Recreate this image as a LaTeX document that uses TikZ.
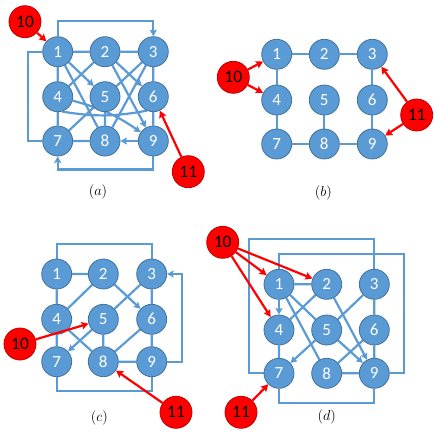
\documentclass[tikz,border=0pt]{standalone}
\usepackage{fontspec}
\setmainfont{Carlito}
\usetikzlibrary{arrows.meta}
\definecolor{nb}{HTML}{5B9BD5}
\definecolor{nbd}{HTML}{41719C}
\definecolor{rd}{HTML}{FF0000}
\definecolor{rdd}{HTML}{C00000}
\pgfdeclarelayer{background}
\pgfsetlayers{background,main}
\begin{document}
\begin{tikzpicture}[x=1pt,y=-1pt,
 bn/.style={circle,fill=nb,draw=nbd,line width=0.8pt,minimum size=30pt,inner sep=0pt,text=white,font=\fontsize{17}{17}\selectfont},
 rn/.style={circle,fill=rd,draw=rdd,line width=0.8pt,minimum size=32pt,inner sep=0pt,text=black,font=\fontsize{17.5}{17.5}\selectfont},
 e/.style={draw=nb,line width=2.2pt},
 ea/.style={e,-{Stealth[length=6.5pt,width=7pt,inset=1pt]}},
 ra/.style={draw=red,line width=2.2pt,-{Stealth[length=7pt,width=7.5pt,inset=1pt]}},
 lab/.style={font=\fontsize{14}{14}\selectfont}]
\useasboundingbox (0,0) rectangle (436,436);

% ---------- panel (a)
\foreach \n/\x/\y in {1/57.7/51.7,2/105/51.7,3/153.3/51.7,4/57.7/96.7,5/105/96.7,6/153.3/96.7,7/57.7/141,8/105/141,9/153.3/141}
  \node[bn] (a\n) at (\x,\y) {\n};
\node[rn] (a10) at (25,21.7) {10};
\node[rn] (a11) at (188.3,171.7) {11};
\node[lab] (la) at (98,192) {$(a)$};

% ---------- panel (b)
\foreach \n/\x/\y in {1/276.7/54.3,2/324.3/54.3,3/372.3/54.3,4/276.7/100,5/324.3/100,6/372.3/100,7/276.7/144,8/324.3/144,9/372.3/144}
  \node[bn] (b\n) at (\x,\y) {\n};
\node[rn] (b10) at (233.3,77.3) {10};
\node[rn] (b11) at (416.7,115) {11};
\node[lab] (lb) at (323.3,193.3) {$(b)$};

% ---------- panel (c)
\foreach \n/\x/\y in {1/56.7/274,2/103.3/274,3/151.7/274,4/56.7/319.3,5/103.3/319.3,6/151.7/319.3,7/56.7/361.7,8/103.3/361.7,9/151.7/361.7}
  \node[bn] (c\n) at (\x,\y) {\n};
\node[rn] (c10) at (20,344) {10};
\node[rn] (c11) at (176,412.3) {11};
\node[lab] (lc) at (99.3,417.7) {$(c)$};

% ---------- panel (d)
\foreach \n/\x/\y in {1/279/284.3,2/326.7/284.3,3/374.3/284.3,4/279/330,5/326.7/330,6/374.3/330,7/279/373.3,8/326.7/373.3,9/374.3/373.3}
  \node[bn] (d\n) at (\x,\y) {\n};
\node[rn] (d10) at (222.7,242.3) {10};
\node[rn] (d11) at (241,412.3) {11};
\node[lab] (ld) at (326.7,416.7) {$(d)$};

\begin{pgfonlayer}{background}
% (a)
\draw[e] (a1)--(a2) (a2)--(a3) (a1)--(a4) (a4)--(a7) (a3)--(a6) (a6)--(a9)
  (a5)--(a8) (a7)--(a8) (a1)--(a8) (a2)--(a4) (a3)--(a7) (a3)--(a8);
\draw[ea] (a9)--(a8);
\draw[ea] (a1)--(a5);
\draw[ea] (a2)--(a6);
\draw[ea] (a2)--(a9);
\draw[ea] (a4) to[bend left=10] (a9);
\draw[e] (a4.-74) to[bend right=10] (a6.-115);
\draw[ea] (a1.north) -- ++(0,-15) -| (a3.north);
\draw[e] (a1.west) -- ++(-14.4,0) |- (a7.west);
\draw[ea] (a9.south) -- ++(0,13) -| (a7.south);
% (b)
\draw[e] (b1)--(b2) (b2)--(b3) (b1)--(b4) (b4)--(b7) (b7)--(b8) (b8)--(b9)
  (b5)--(b8) (b3)--(b6) (b6)--(b9);
% (c)
\draw[e] (c1)--(c2) (c1)--(c4) (c4)--(c7) (c2)--(c4) (c3)--(c6) (c6)--(c9)
  (c3)--(c5) (c4)--(c8) (c5)--(c8) (c6)--(c8) (c8)--(c9);
\draw[ea] (c2)--(c6);
\draw[ea] (c5)--(c7);
\draw[e] (c1.north) -- ++(0,-15) -| (c3.north);
\draw[e] (c7.south) -- ++(0,14) -| (c9.south);
\draw[ea] (c9.east) -- ++(15,0) |- (c3.east);
% (d)
\draw[e] (d1)--(d2) (d4)--(d7) (d2)--(d4) (d3)--(d5) (d3)--(d6) (d6)--(d9)
  (d1)--(d5) (d1)--(d8) (d6)--(d8) (d8)--(d9);
\draw[ea] (d1)--(d4);
\draw[ea] (d2)--(d9);
\draw[ea] (d5)--(d7);
\draw[ea] (d5)--(d9);
\draw[e] (d3.north) |- (249.3,239.3) |- (d7.west);
\draw[e] (d1.north) |- (404,254.3) |- (d9.east);
\draw[e] (d7.south) -- ++(0,14) -| (d9.south);
\end{pgfonlayer}

% red arrows
\draw[ra] (a10)--(a1);
\draw[ra] (a11)--(a6);
\draw[ra] (b10)--(b1);
\draw[ra] (b10)--(b4);
\draw[ra] (b11)--(b3);
\draw[ra] (b11)--(b9);
\draw[ra] (c10)--(c5);
\draw[ra] (c11)--(c8);
\draw[ra] (d10)--(d1);
\draw[ra] (d10)--(d2);
\draw[ra] (d10)--(d4);
\draw[ra] (d11)--(d7);
\end{tikzpicture}
\end{document}
